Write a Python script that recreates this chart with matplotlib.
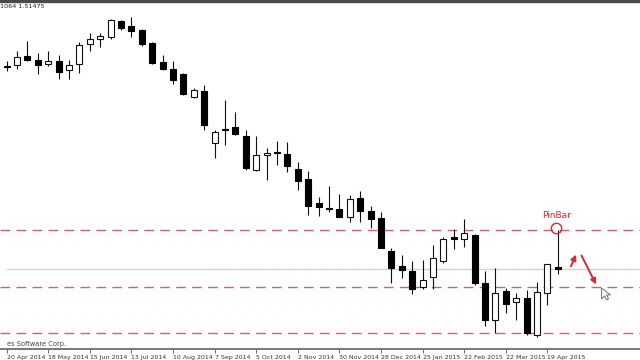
import numpy as np
import pandas as pd
import matplotlib
matplotlib.use("Agg")
import matplotlib.pyplot as plt
from matplotlib.patches import Polygon

# GBPUSD weekly candles, first (partial) bar is week of 13 Apr 2014
opens = [1.6743, 1.6792, 1.6800, 1.6873, 1.6841, 1.6808, 1.6833, 1.6760, 1.6808, 1.6971,
         1.7011, 1.7028, 1.7157, 1.7117, 1.7084, 1.6979, 1.6825, 1.6768, 1.6727, 1.6540,
         1.6589, 1.6167, 1.6281, 1.6297, 1.6224, 1.5948, 1.6069, 1.6094, 1.6078, 1.5956,
         1.5875, 1.5680, 1.5639, 1.5631, 1.5566, 1.5720, 1.5615, 1.5558, 1.5290, 1.5168,
         1.5128, 1.4998, 1.5079, 1.5209, 1.5404, 1.5387, 1.5420, 1.5030, 1.4728, 1.4965,
         1.4876, 1.4908, 1.4608, 1.4949, 1.5160]
highs = [1.6800, 1.6833, 1.6914, 1.6995, 1.6898, 1.6914, 1.6881, 1.6841, 1.6987, 1.7060,
         1.7060, 1.7174, 1.7166, 1.7190, 1.7092, 1.6987, 1.6881, 1.6833, 1.6735, 1.6613,
         1.6638, 1.6272, 1.6516, 1.6419, 1.6272, 1.6224, 1.6126, 1.6183, 1.6175, 1.6013,
         1.5940, 1.5728, 1.5818, 1.5753, 1.5745, 1.5777, 1.5655, 1.5607, 1.5314, 1.5257,
         1.5209, 1.5217, 1.5339, 1.5404, 1.5468, 1.5550, 1.5425, 1.5128, 1.5152, 1.4989,
         1.4949, 1.4973, 1.5038, 1.5184, 1.5460]
lows = [1.6695, 1.6751, 1.6768, 1.6833, 1.6727, 1.6792, 1.6687, 1.6687, 1.6735, 1.6914,
        1.6946, 1.7011, 1.7084, 1.7028, 1.6954, 1.6808, 1.6760, 1.6646, 1.6557, 1.6532,
        1.6272, 1.6045, 1.6151, 1.6232, 1.5948, 1.5940, 1.5866, 1.5988, 1.5932, 1.5785,
        1.5582, 1.5574, 1.5607, 1.5566, 1.5525, 1.5525, 1.5477, 1.5314, 1.5030, 1.5071,
        1.4941, 1.4981, 1.4981, 1.5192, 1.5306, 1.5322, 1.5014, 1.4681, 1.4624, 1.4786,
        1.4728, 1.4608, 1.4592, 1.4851, 1.5103]
closes = [1.6776, 1.6788, 1.6865, 1.6841, 1.6800, 1.6833, 1.6743, 1.6800, 1.6963, 1.7011,
          1.7036, 1.7166, 1.7101, 1.7076, 1.6971, 1.6816, 1.6768, 1.6678, 1.6565, 1.6597,
          1.6313, 1.6256, 1.6272, 1.6240, 1.5964, 1.6069, 1.6086, 1.6086, 1.5980, 1.5858,
          1.5655, 1.5647, 1.5631, 1.5566, 1.5712, 1.5615, 1.5550, 1.5314, 1.5152, 1.5136,
          1.4981, 1.5054, 1.5233, 1.5387, 1.5387, 1.5436, 1.5030, 1.4728, 1.4949, 1.4860,
          1.4908, 1.4624, 1.4957, 1.5184, 1.5144]

levels = [1.5460, 1.4998, 1.4624]
bid = 1.5144

weeks = pd.date_range("2014-04-13", periods=len(opens), freq="7D")
idx = np.arange(len(opens)) - 1   # 20 Apr 2014 -> 0

fig = plt.figure(figsize=(6.4, 3.6), dpi=100)
ax = fig.add_axes([0, 11 / 360, 1, 347 / 360])
ax.set_xlim(-0.64, 60.9)
ax.set_ylim(1.4494, 1.7312)

o = np.array(opens); h = np.array(highs); l = np.array(lows); c = np.array(closes)
up = c >= o

# levels & bid line
for lv in levels:
    ax.axhline(lv, color="#d8606a", lw=1.0, ls=(0, (7, 4.5)), zorder=1)
ax.plot([0, 61], [bid, bid], color="#d2d2d2", lw=1.0, zorder=1)

# candles
ax.vlines(idx, l, h, color="#111111", lw=0.8, zorder=2)
body = np.abs(c - o)
body = np.where(body < 0.0002, 0.0002, body)
bottom = np.minimum(o, c)
ax.bar(idx[up], body[up], bottom=bottom[up], width=0.58, color="white",
       edgecolor="#111111", lw=0.8, zorder=3)
ax.bar(idx[~up], body[~up], bottom=bottom[~up], width=0.58, color="black",
       edgecolor="black", lw=0.8, zorder=3)

# pin bar annotation
red = "#d42a3a"
ax.plot(idx[-1] - 0.2, highs[-1] + 0.0016, marker="o", ms=7.5, mfc="none", mec=red,
        mew=1.0, zorder=4)
ax.text(idx[-1] - 0.1, highs[-1] + 0.0122, "PinBar", color=red, fontsize=6.5,
        ha="center", va="center")
ax.annotate("", xy=(54.85, 1.5282), xytext=(54.15, 1.5144),
            arrowprops=dict(arrowstyle="-|>", color=red, lw=1.4, mutation_scale=8))
ax.annotate("", xy=(56.8, 1.4998), xytext=(55.15, 1.5274),
            arrowprops=dict(arrowstyle="-|>", color=red, lw=1.4, mutation_scale=8))

# mouse cursor
fig.canvas.draw()
px, py = ax.transData.transform((57.2, 1.4990))
shape = np.array([(0, 0), (0, -11), (3, -8), (5, -12), (7, -11), (5, -7), (9, -7)])
ax.add_patch(Polygon(shape + [px, py], closed=True, transform=None, fc="white",
                     ec="#707070", lw=0.7, zorder=5))

# x axis like the terminal
for s in ["top", "left", "right"]:
    ax.spines[s].set_visible(False)
ax.spines["bottom"].set_color("#6e6e6e")
ax.spines["bottom"].set_linewidth(1.3)
ax.set_yticks([])
ticks = list(range(0, 53, 4))
labels = [f"{weeks[t + 1].day} {weeks[t + 1]:%b %Y}" for t in ticks]
ax.set_xticks(ticks)
ax.set_xticklabels(labels, fontsize=4.5, color="#333333", ha="left")
ax.tick_params(axis="x", length=3, width=0.6, color="#555555", pad=1.2)

ax.text(0.0, 1.4535, "es Software Corp.", fontsize=4.8, color="#444444",
        ha="left", va="center")
ax.text(0.0, 1.7275, "1064 1.51475", fontsize=4.6, color="#222222",
        ha="left", va="center", transform=ax.get_yaxis_transform())

fig.patches.append(plt.Rectangle((0, 358 / 360), 1, 2 / 360, transform=fig.transFigure,
                                 color="#4a4a4a", zorder=10))

fig.savefig("out.png", dpi=100)
